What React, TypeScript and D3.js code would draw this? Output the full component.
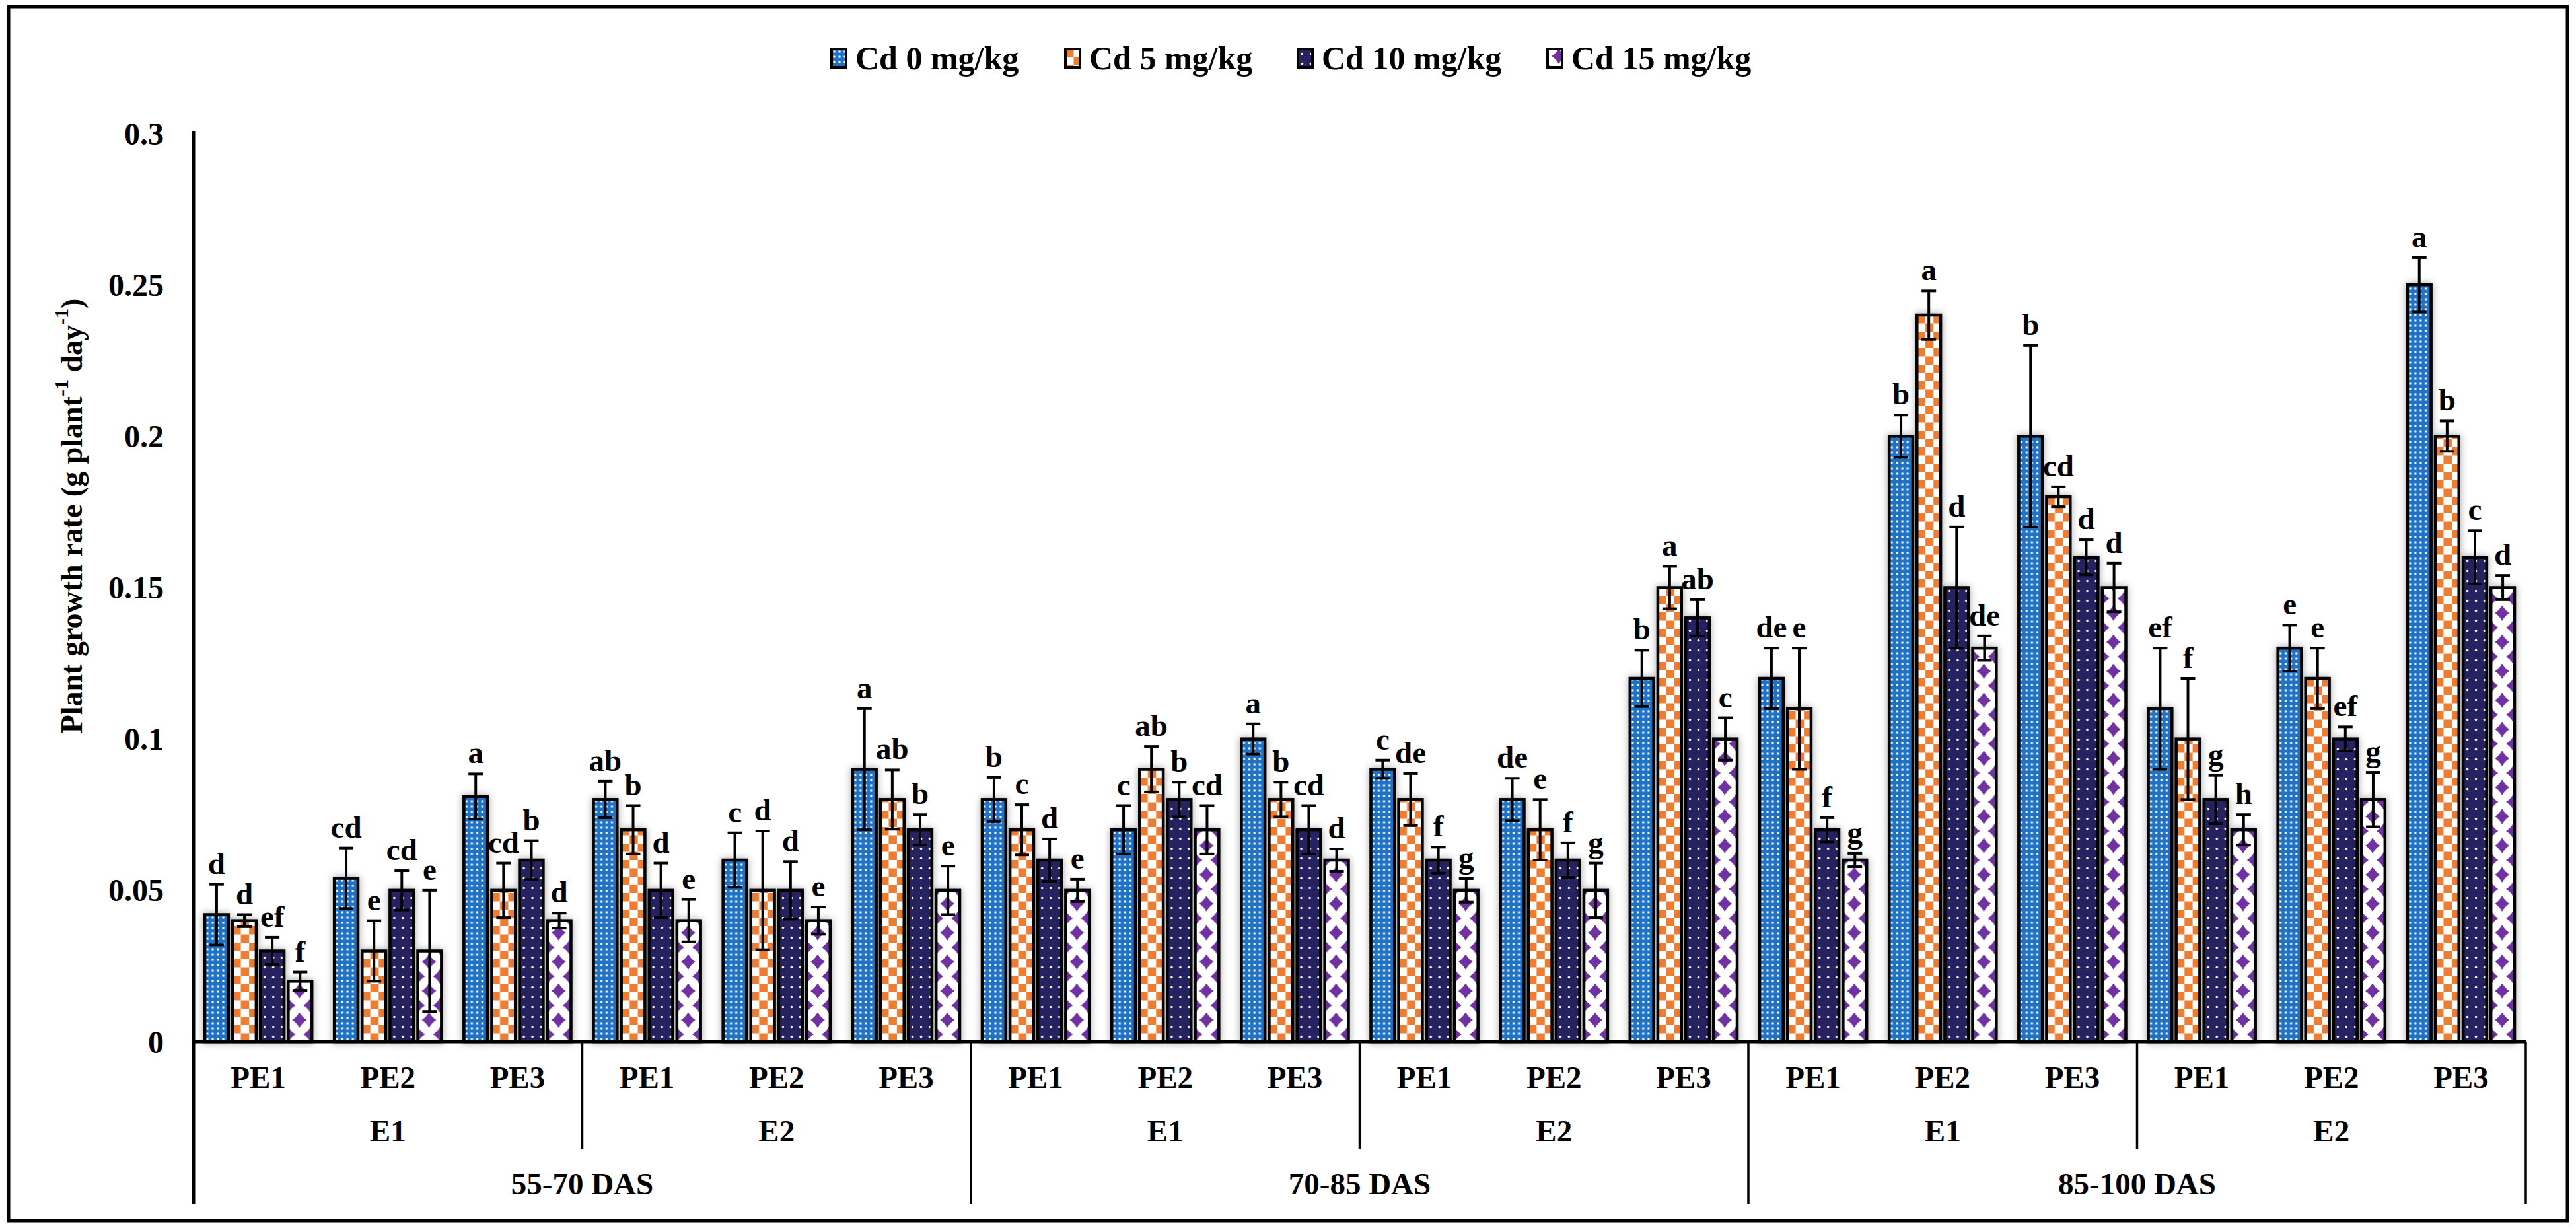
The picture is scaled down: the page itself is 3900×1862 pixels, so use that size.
import React from "react";
import * as d3 from "d3";

const seriesNames = ["Cd 0 mg/kg", "Cd 5 mg/kg", "Cd 10 mg/kg", "Cd 15 mg/kg"];
const dasLabels = ["55-70 DAS", "70-85 DAS", "85-100 DAS"];
const eLabels = ["E1", "E2"];
const peLabels = ["PE1", "PE2", "PE3"];
const yTicks = [0, 0.05, 0.1, 0.15, 0.2, 0.25, 0.3];

const cd0Values = [0.042, 0.054, 0.081, 0.08, 0.06, 0.09, 0.08, 0.07, 0.1, 0.09, 0.08, 0.12, 0.12, 0.2, 0.2, 0.11, 0.13, 0.25];
const cd0Errors = [0.01, 0.01, 0.0075, 0.006, 0.009, 0.02, 0.0073, 0.008, 0.005, 0.003, 0.007, 0.0093, 0.01, 0.007, 0.03, 0.02, 0.0076, 0.009];
const cd0Letters = ["d", "cd", "a", "ab", "c", "a", "b", "c", "a", "c", "de", "b", "de", "b", "b", "ef", "e", "a"];

const cd5Values = [0.04, 0.03, 0.05, 0.07, 0.05, 0.08, 0.07, 0.09, 0.08, 0.08, 0.07, 0.15, 0.11, 0.24, 0.18, 0.1, 0.12, 0.2];
const cd5Errors = [0.002, 0.01, 0.009, 0.008, 0.0196, 0.0098, 0.0083, 0.0075, 0.0057, 0.0086, 0.01, 0.007, 0.02, 0.008, 0.0033, 0.02, 0.01, 0.005];
const cd5Letters = ["d", "e", "cd", "b", "d", "ab", "c", "ab", "b", "de", "e", "a", "e", "a", "cd", "f", "e", "b"];

const cd10Values = [0.03, 0.05, 0.06, 0.05, 0.05, 0.07, 0.06, 0.08, 0.07, 0.06, 0.06, 0.14, 0.07, 0.15, 0.16, 0.08, 0.1, 0.16];
const cd10Errors = [0.0045, 0.0065, 0.0064, 0.009, 0.0095, 0.005, 0.007, 0.0057, 0.008, 0.0043, 0.0057, 0.006, 0.004, 0.02, 0.0058, 0.008, 0.004, 0.0088];
const cd10Letters = ["ef", "cd", "b", "d", "d", "b", "d", "b", "cd", "f", "f", "ab", "f", "d", "d", "g", "ef", "c"];

const cd15Values = [0.02, 0.03, 0.04, 0.04, 0.04, 0.05, 0.05, 0.07, 0.06, 0.05, 0.05, 0.1, 0.06, 0.13, 0.15, 0.07, 0.08, 0.15];
const cd15Errors = [0.003, 0.02, 0.0025, 0.007, 0.0045, 0.008, 0.0037, 0.008, 0.0037, 0.0039, 0.009, 0.007, 0.0022, 0.004, 0.008, 0.005, 0.009, 0.004];
const cd15Letters = ["f", "e", "d", "e", "e", "e", "e", "cd", "d", "g", "g", "c", "g", "de", "d", "h", "g", "d"];

const seriesValues = [cd0Values, cd5Values, cd10Values, cd15Values];
const seriesErrors = [cd0Errors, cd5Errors, cd10Errors, cd15Errors];
const seriesLetters = [cd0Letters, cd5Letters, cd10Letters, cd15Letters];

const W = 3900;
const H = 1862;
const FONT = "'Liberation Serif', 'Times New Roman', serif";
const BLUE = "#2172C4";
const ORANGE = "#ED7D31";
const NAVY = "#25235F";
const PURPLE = "#7030A0";

const M = { left: 293, right: 3824, top: 202, bottom: 1577 };

const groupIds: string[] = [];
dasLabels.forEach((d) => eLabels.forEach((e) => peLabels.forEach((p) => groupIds.push(`${d}|${e}|${p}`))));

function starPath(cx: number, cy: number, rx: number, ry: number) {
  const k = 0.36;
  return `M${cx},${cy - ry} Q${cx + rx * k},${cy - ry * k} ${cx + rx},${cy} Q${cx + rx * k},${cy + ry * k} ${cx},${cy + ry} Q${cx - rx * k},${cy + ry * k} ${cx - rx},${cy} Q${cx - rx * k},${cy - ry * k} ${cx},${cy - ry} Z`;
}

function PatternDef({ id, series, x, y }: { id: string; series: number; x: number; y: number }) {
  if (series === 0) {
    return (
      <pattern id={id} patternUnits="userSpaceOnUse" x={x} y={y} width={8} height={8}>
        <rect width={8} height={8} fill={BLUE} />
        <rect x={2.5} y={2.5} width={3} height={3} fill="#fff" />
      </pattern>
    );
  }
  if (series === 1) {
    return (
      <pattern id={id} patternUnits="userSpaceOnUse" x={x} y={y} width={25} height={25}>
        <rect width={25} height={25} fill="#fff" />
        <rect x={0} y={0} width={12.5} height={12.5} fill={ORANGE} />
        <rect x={12.5} y={12.5} width={12.5} height={12.5} fill={ORANGE} />
      </pattern>
    );
  }
  if (series === 2) {
    return (
      <pattern id={id} patternUnits="userSpaceOnUse" x={x} y={y} width={13} height={15}>
        <rect width={13} height={15} fill={NAVY} />
        <circle cx={6.5} cy={7.5} r={1.8} fill="#fff" />
      </pattern>
    );
  }
  return (
    <pattern id={id} patternUnits="userSpaceOnUse" x={x} y={y} width={34} height={44}>
      <rect width={34} height={44} fill="#fff" />
      <path d={starPath(17, 11, 11, 12)} fill={PURPLE} />
      <path d={starPath(0, 33, 11, 12)} fill={PURPLE} />
      <path d={starPath(34, 33, 11, 12)} fill={PURPLE} />
    </pattern>
  );
}

export default function App() {
  const x0 = d3.scaleBand<string>().domain(groupIds).range([M.left, M.right]).padding(0);
  const gw = x0.bandwidth();
  const x1 = d3
    .scaleBand<number>()
    .domain([0, 1, 2, 3])
    .range([17, gw - 17])
    .paddingInner(0.15);
  const bw = x1.bandwidth();
  const y = d3.scaleLinear().domain([0, 0.3]).range([M.bottom, M.top]);

  const bars: { gi: number; si: number; x: number; v: number; e: number; l: string }[] = [];
  groupIds.forEach((g, gi) => {
    seriesValues.forEach((vals, si) => {
      bars.push({
        gi,
        si,
        x: (x0(g) as number) + (x1(si) as number),
        v: vals[gi],
        e: seriesErrors[si][gi],
        l: seriesLetters[si][gi],
      });
    });
  });

  const capW = 22;
  const legendX = [1259, 1613, 1965, 2343];
  const legendY = 88;

  const eGroupW = gw * peLabels.length;
  const dasGroupW = eGroupW * eLabels.length;

  return (
    <svg
      width={W}
      height={H}
      style={{ position: "absolute", left: 0, top: 0, background: "#fff" }}
      fontFamily={FONT}
    >
      <defs>
        <filter id="shadow" x="-60%" y="-10%" width="220%" height="120%">
          <feDropShadow dx="0" dy="0" stdDeviation="6" floodColor="#000" floodOpacity="0.35" />
        </filter>
        {bars.map((b) => (
          <PatternDef key={`p${b.gi}-${b.si}`} id={`pat-${b.gi}-${b.si}`} series={b.si} x={b.x} y={M.bottom} />
        ))}
        {seriesNames.map((s, si) => (
          <PatternDef key={`lp${si}`} id={`lpat-${si}`} series={si} x={legendX[si]} y={legendY - 14} />
        ))}
      </defs>

      <rect x={13} y={10} width={3874} height={1838} fill="#fff" stroke="#000" strokeWidth={5} />

      {/* legend */}
      {seriesNames.map((s, si) => (
        <g key={s}>
          <rect x={legendX[si]} y={legendY - 14} width={22} height={28} fill={`url(#lpat-${si})`} stroke="#000" strokeWidth={4} />
          <text x={legendX[si] + 36} y={legendY + 17} fontSize={50} fontWeight="bold">
            {s}
          </text>
        </g>
      ))}

      {/* y tick labels */}
      {yTicks.map((t) => (
        <text key={t} x={248} y={y(t)} fontSize={48} fontWeight="bold" textAnchor="end" dominantBaseline="central">
          {d3.format("~g")(t)}
        </text>
      ))}

      {/* y title */}
      <text transform={`translate(108,781) rotate(-90)`} fontSize={46} fontWeight="bold" textAnchor="middle" dominantBaseline="central">
        Plant growth rate (g plant
        <tspan fontSize={30} dy={-16}>-1</tspan>
        <tspan dy={16}> day</tspan>
        <tspan fontSize={30} dy={-16}>-1</tspan>
        <tspan dy={16}>)</tspan>
      </text>

      {/* bars */}
      {bars.map((b) => (
        <rect
          key={`b${b.gi}-${b.si}`}
          x={b.x}
          y={y(b.v)}
          width={bw}
          height={y(0) - y(b.v)}
          fill={`url(#pat-${b.gi}-${b.si})`}
          stroke="#000"
          strokeWidth={4.5}
          filter="url(#shadow)"
        />
      ))}

      {/* error bars */}
      {bars.map((b) => {
        const cx = b.x + bw / 2;
        const yt = y(b.v + b.e);
        const yb = y(b.v - b.e);
        return (
          <g key={`e${b.gi}-${b.si}`} stroke="#000" strokeWidth={4}>
            <line x1={cx} x2={cx} y1={yt} y2={yb} />
            <line x1={cx - capW / 2} x2={cx + capW / 2} y1={yt} y2={yt} />
            <line x1={cx - capW / 2} x2={cx + capW / 2} y1={yb} y2={yb} />
          </g>
        );
      })}

      {/* letters */}
      {bars.map((b) => (
        <text
          key={`l${b.gi}-${b.si}`}
          x={b.x + bw / 2}
          y={y(b.v + b.e) - 16}
          fontSize={47}
          fontWeight="bold"
          textAnchor="middle"
        >
          {b.l}
        </text>
      ))}

      {/* axes */}
      <line x1={M.left} x2={M.left} y1={M.top - 4} y2={1822} stroke="#000" strokeWidth={5} />
      <line x1={M.left} x2={M.right} y1={M.bottom} y2={M.bottom} stroke="#000" strokeWidth={5} />

      {/* category labels */}
      {groupIds.map((g, gi) => (
        <text key={`pe${g}`} x={(x0(g) as number) + gw / 2} y={1647} fontSize={47} fontWeight="bold" textAnchor="middle">
          {peLabels[gi % peLabels.length]}
        </text>
      ))}
      {dasLabels.map((d, di) =>
        eLabels.map((e, ei) => {
          const start = M.left + di * dasGroupW + ei * eGroupW;
          return (
            <g key={`${d}${e}`}>
              <text x={start + eGroupW / 2} y={1728} fontSize={47} fontWeight="bold" textAnchor="middle">
                {e}
              </text>
              {ei > 0 && <line x1={start} x2={start} y1={M.bottom} y2={1740} stroke="#000" strokeWidth={3.5} />}
            </g>
          );
        })
      )}
      {dasLabels.map((d, di) => {
        const start = M.left + di * dasGroupW;
        return (
          <g key={d}>
            <text x={start + dasGroupW / 2} y={1808} fontSize={47} fontWeight="bold" textAnchor="middle">
              {d}
            </text>
            <line x1={start + dasGroupW} x2={start + dasGroupW} y1={M.bottom} y2={1822} stroke="#000" strokeWidth={3.5} />
          </g>
        );
      })}
    </svg>
  );
}
